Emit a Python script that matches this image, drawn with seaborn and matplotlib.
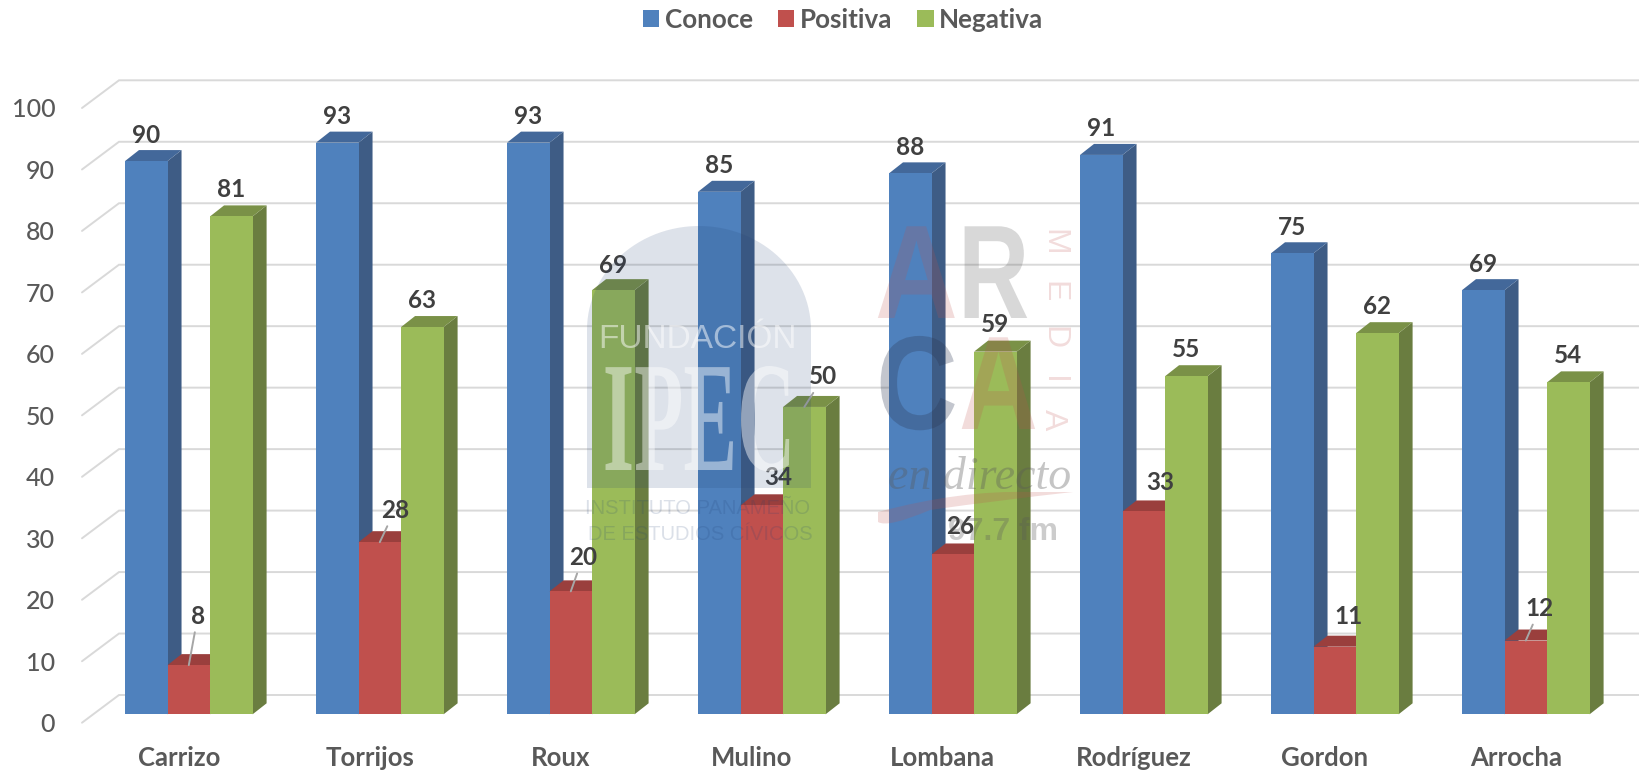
import numpy as np
import pandas as pd
import matplotlib
matplotlib.use("Agg")
import matplotlib.pyplot as plt
import matplotlib.patheffects as pe
import matplotlib.transforms as mtransforms
from matplotlib.patches import Polygon, PathPatch
from matplotlib.path import Path
import seaborn as sns

candidatos = ["Carrizo", "Torrijos", "Roux", "Mulino", "Lombana", "Rodríguez", "Gordon", "Arrocha"]
conoce = [90, 93, 93, 85, 88, 91, 75, 69]
positiva = [8, 28, 20, 34, 26, 33, 11, 12]
negativa = [81, 63, 69, 50, 59, 55, 62, 54]
y_ticks = list(range(0, 101, 10))

colores = {"Conoce": "#4F81BD", "Positiva": "#C0504D", "Negativa": "#9BBB59"}
laterales = {"Conoce": "#3E5C85", "Positiva": "#8C3836", "Negativa": "#6A7D40"}
tapas = {"Conoce": "#43689A", "Positiva": "#9A3F3D", "Negativa": "#7A9147"}

# separacion de etiquetas en pixeles (dx, dy) respecto al centro de la tapa
off_conoce = [(0, 26)] * 8
off_positiva = [(9, 49), (15, 32), (12, 34), (16, 28), (7, 28), (16, 29), (14, 30), (14, 32)]
off_negativa = [(0, 27), (0, 27), (0, 25), (19, 30), (0, 27), (0, 27), (0, 27), (0, 27)]
con_guia = {("Positiva", 0), ("Positiva", 1), ("Positiva", 2), ("Negativa", 3), ("Positiva", 7)}


class Estira(pe.AbstractPathEffect):
    # estira el texto de la marca de agua desde su origen
    def __init__(self, sx=1.0, sy=1.0):
        super().__init__()
        self.escala = mtransforms.Affine2D().scale(sx, sy)

    def draw_path(self, renderer, gc, tpath, affine, rgbFace=None):
        renderer.draw_path(gc, tpath, self.escala + affine, rgbFace)


sns.set_theme(style="white")
plt.rcParams["font.family"] = ["Lato", "DejaVu Sans"]

df = pd.DataFrame({"candidato": candidatos, "Conoce": conoce, "Positiva": positiva, "Negativa": negativa})
largo = df.melt(id_vars="candidato", var_name="serie", value_name="valor")

W, H = 1640, 773
px_y = 6.147
px_x = 191.0
x_cero = 188.8
base_px = 714.3
fig = plt.figure(figsize=(W / 100, H / 100), dpi=100)
ax = fig.add_axes([85 / W, (H - base_px) / H, (W - 85) / W, 100 * px_y / H])

sns.barplot(data=largo, x="candidato", y="valor", hue="serie", palette=colores,
            width=0.668, gap=0, saturation=1, edgecolor="none", linewidth=0, ax=ax)
ax.set_xlim((85 - x_cero) / px_x, (W - x_cero) / px_x)
ax.set_ylim(0, 100)
ax.set_xlabel("")
ax.set_ylabel("")
ax.patch.set_visible(False)
sns.despine(ax=ax, left=True, bottom=True)

# rejilla en perspectiva
x_front = (82 - x_cero) / px_x
x_back = (119 - x_cero) / px_x
x_end = (W - x_cero) / px_x
for v in y_ticks:
    y_f = v - 8.4 / px_y
    y_b = v + 19.3 / px_y
    ax.plot([x_front, x_back, x_end], [y_f, y_b, y_b], color="#D9D9D9", lw=1.4,
            clip_on=False, zorder=1, solid_joinstyle="miter")

# caras laterales y tapas
dx = 14 / px_x
dy = 11 / px_y
offsets = {"Conoce": off_conoce, "Positiva": off_positiva, "Negativa": off_negativa}
for j, (serie, cont) in enumerate(zip(colores, ax.containers)):
    for i, bar in enumerate(cont):
        x0, w, h = bar.get_x(), bar.get_width(), bar.get_height()
        x1 = x0 + w
        ax.add_patch(Polygon([(x1, 0), (x1 + dx, dy), (x1 + dx, h + dy), (x1, h)],
                             fc=laterales[serie], ec="none", clip_on=False, zorder=2 + j))
        ax.add_patch(Polygon([(x0, h), (x1, h), (x1 + dx, h + dy), (x0 + dx, h + dy)],
                             fc=tapas[serie], ec="none", clip_on=False, zorder=2 + j))
        bar.set_zorder(2.5 + j)
        arrow = None
        if (serie, i) in con_guia:
            arrow = dict(arrowstyle="-", color="#A6A6A6", lw=1.4, shrinkA=1, shrinkB=0)
        ax.annotate(str(int(h)), xy=(x0 + w / 2, h), xytext=offsets[serie][i],
                    textcoords="offset pixels", ha="center", va="center",
                    fontsize=17.5, fontweight="bold", color="#404040", zorder=6,
                    arrowprops=arrow, annotation_clip=False)

# ejes
ax.set_yticks(y_ticks)
ax.set_xticks(range(len(candidatos)))
ax.set_xticklabels(candidatos)
ax.tick_params(axis="y", length=0, pad=21.5, labelsize=18, labelcolor="#595959")
ax.tick_params(axis="x", length=0, pad=23, labelsize=18.5, labelcolor="#595959")
baja = mtransforms.ScaledTranslation(0, -8.4 / 100, fig.dpi_scale_trans)
izq = mtransforms.ScaledTranslation(-10 / 100, 0, fig.dpi_scale_trans)
for lab in ax.get_yticklabels():
    lab.set_transform(lab.get_transform() + baja)
    lab.set_fontweight("medium")
for lab in ax.get_xticklabels():
    lab.set_fontweight("bold")
    lab.set_transform(lab.get_transform() + izq)

sns.move_legend(ax, "center", bbox_to_anchor=(843 / W, 1 - 20 / H), bbox_transform=fig.transFigure,
                ncol=3, frameon=False, title=None, handlelength=0.64, handleheight=0.64,
                handletextpad=0.22, columnspacing=0.95, labelcolor="#595959", prop={"weight": "bold", "size": 18.7})

# marcas de agua encima del grafico, en pixeles
wm = fig.add_axes([0, 0, 1, 1], zorder=5)
wm.set_xlim(0, W)
wm.set_ylim(H, 0)
wm.axis("off")

t = np.linspace(np.pi, 0, 60)
arco = np.column_stack([699 + 112 * np.cos(t), 330 - 104 * np.sin(t)])
contorno = np.vstack([[587, 488], arco, [811, 488], [587, 488]])
wm.add_patch(Polygon(contorno, closed=True, fc="#1F3F73", ec="none", alpha=0.15))
wm.text(698, 339, "FUNDACIÓN", ha="center", va="center", fontsize=24, color="white", alpha=0.5,
        family="Liberation Sans")
wm.text(699, 470, "IPEC", ha="center", va="baseline", fontsize=58, color="white", alpha=0.45,
        family="Liberation Serif", fontweight="bold", path_effects=[Estira(1, 1.95)])
wm.text(698, 509, "INSTITUTO PANAMEÑO", ha="center", va="center", fontsize=14.5, color="#1F3F73", alpha=0.16,
        family="Liberation Sans")
wm.text(700, 535, "DE ESTUDIOS CÍVICOS", ha="center", va="center", fontsize=14.5, color="#1F3F73", alpha=0.16,
        family="Liberation Sans")

for letra, xl, yl, color, alfa, sx in [("A", 875, 318, "#C0504D", 0.2, 0.86),
                                       ("R", 958, 318, "#404040", 0.2, 0.74),
                                       ("C", 876, 429, "#2A3550", 0.28, 0.85),
                                       ("A", 959, 429, "#C0504D", 0.2, 0.82)]:
    wm.text(xl, yl, letra, ha="left", va="baseline", fontsize=96, color=color, alpha=alfa,
            fontweight="bold", family="Liberation Sans", path_effects=[Estira(sx, 1)])
for letra, yl in zip("MEDIA", [242, 292, 338, 380, 420]):
    wm.text(1053, yl, letra, ha="center", va="center", rotation=-90, fontsize=23, color="#C0504D", alpha=0.2,
            family="Liberation Sans")
wm.text(980, 478, "en directo", ha="center", va="center", fontsize=33, color="#595959", alpha=0.35,
        family="Liberation Serif", style="italic")
wm.text(1003, 532, "97.7 fm", ha="center", va="center", fontsize=23, color="#595959", alpha=0.3,
        family="Liberation Sans", fontweight="bold")
trazo = Path([(878, 512), (960, 490), (1030, 492), (1073, 492), (1000, 500), (930, 510), (888, 528), (878, 522), (878, 512)],
             [Path.MOVETO, Path.CURVE3, Path.CURVE3, Path.LINETO, Path.CURVE3, Path.CURVE3, Path.CURVE3, Path.CURVE3, Path.CLOSEPOLY])
wm.add_patch(PathPatch(trazo, fc="#C0504D", ec="none", alpha=0.2))

fig.savefig("out.png", dpi=100)
